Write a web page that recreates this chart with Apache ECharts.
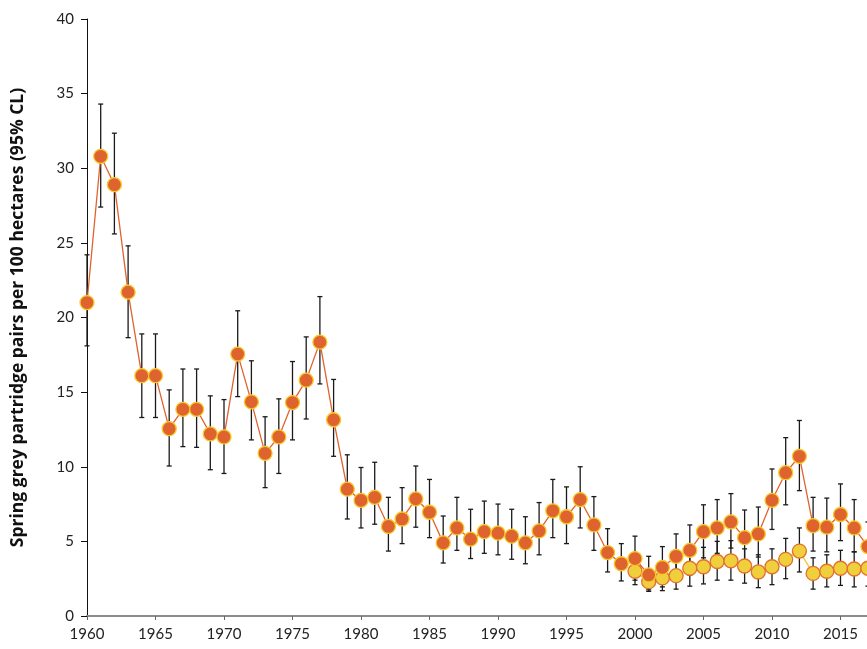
<!DOCTYPE html>
<html>
<head>
<meta charset="utf-8">
<script src="https://cdn.jsdelivr.net/npm/echarts@6/dist/echarts.min.js"></script>
<style>
html,body{margin:0;padding:0;background:#fff;overflow:hidden;width:867px;height:649px;}
#chart{width:960px;height:649px;}
</style>
</head>
<body>
<div id="chart"></div>
<script>
// Main series (1960-2017)
const years = [];
for (let y = 1960; y <= 2017; y++) years.push(y);
const mainMean = [21.0,30.8,28.9,21.7,16.1,16.1,12.55,13.85,13.85,12.2,12.0,17.55,14.35,10.9,12.0,14.3,15.8,18.35,13.15,8.5,
  7.75,7.95,6.0,6.5,7.85,6.95,4.9,5.9,5.15,5.65,5.55,5.35,4.9,5.7,7.05,6.65,7.8,6.1,4.25,3.5,
  3.85,2.75,3.25,4.0,4.4,5.65,5.9,6.3,5.25,5.5,7.75,9.6,10.7,6.05,5.95,6.8,5.9,4.65];
const mainLow = [18.1,27.4,25.6,18.65,13.3,13.3,10.05,11.35,11.3,9.8,9.55,14.7,11.8,8.6,9.55,11.8,13.2,15.55,10.7,6.5,
  5.9,6.15,4.35,4.85,5.95,5.25,3.55,4.4,3.85,4.2,4.1,3.8,3.5,4.1,5.25,4.85,5.9,4.4,2.95,2.35,
  2.4,1.75,1.95,2.55,2.75,3.9,4.2,4.55,3.5,3.95,5.8,7.45,8.4,4.35,4.3,5.05,4.3,3.0];
const mainHigh = [24.2,34.3,32.35,24.8,18.9,18.9,15.15,16.55,16.55,14.75,14.5,20.45,17.1,13.35,14.55,17.05,18.7,21.4,15.85,10.8,
  9.95,10.3,7.95,8.6,10.05,9.15,6.7,7.95,7.15,7.7,7.5,7.15,6.65,7.6,9.15,8.65,10.0,8.0,5.85,4.85,
  5.35,4.0,4.65,5.5,6.1,7.45,7.8,8.2,7.1,7.3,9.85,11.95,13.1,7.95,7.9,8.85,7.8,6.3];

// Second series (2000-2017)
const years2 = [];
for (let y = 2000; y <= 2017; y++) years2.push(y);
const secMean = [3.0,2.3,2.55,2.7,3.2,3.3,3.65,3.7,3.35,2.95,3.3,3.8,4.35,2.85,3.0,3.2,3.15,3.2];
const secLow  = [2.1,1.65,1.7,1.8,2.0,2.15,2.4,2.4,2.2,1.9,2.1,2.5,2.95,1.8,1.95,2.05,1.95,2.0];
const secHigh = [3.9,2.95,3.4,3.6,4.35,4.6,5.0,5.05,4.5,4.1,4.5,5.2,5.9,3.9,4.1,4.4,4.3,4.4];

const yAxisTitle = 'Spring grey partridge pairs per 100 hectares (95% CL)';

const mainPts = years.map((y,i)=>[y, mainMean[i]]);
const secPts = years2.map((y,i)=>[y, secMean[i]]);
const errMain = years.map((y,i)=>[y, mainLow[i], mainHigh[i]]);
const errSec = years2.map((y,i)=>[y, secLow[i], secHigh[i]]);

function renderErr(params, api){
  const x = api.value(0);
  const lo = api.coord([x, api.value(1)]);
  const hi = api.coord([x, api.value(2)]);
  const hw = 2.5;
  const st = {stroke:'#1a1a1a', lineWidth:1.3};
  return {type:'group', children:[
    {type:'line', shape:{x1:lo[0],y1:lo[1],x2:hi[0],y2:hi[1]}, style:st},
    {type:'line', shape:{x1:lo[0]-hw,y1:lo[1],x2:lo[0]+hw,y2:lo[1]}, style:st},
    {type:'line', shape:{x1:hi[0]-hw,y1:hi[1],x2:hi[0]+hw,y2:hi[1]}, style:st}
  ]};
}

const chart = echarts.init(document.getElementById('chart'), null, {renderer:'canvas'});
chart.setOption({
  animation:false,
  backgroundColor:'#fff',
  grid:{left:87, top:19, width:822, height:597, containLabel:false},
  xAxis:{
    type:'value', min:1960, max:2020, interval:5,
    axisLine:{show:true, onZero:false, lineStyle:{color:'#8c8c8c', width:2}},
    axisTick:{show:true, length:4, lineStyle:{color:'#666', width:1}},
    splitLine:{show:false},
    axisLabel:{color:'#222', fontFamily:'Lato', fontSize:15, margin:11, formatter:v=>String(v)}
  },
  yAxis:{
    type:'value', min:0, max:40, interval:5,
    name: yAxisTitle, nameLocation:'middle', nameGap:60,
    nameTextStyle:{fontFamily:'Open Sans', fontWeight:'bold', fontSize:17.5, color:'#111'},
    axisLine:{show:true, lineStyle:{color:'#111', width:1}},
    axisTick:{show:true, length:6, lineStyle:{color:'#111', width:1}},
    splitLine:{show:false},
    axisLabel:{color:'#222', fontFamily:'Lato', fontSize:15, margin:13}
  },
  series:[
    {type:'custom', renderItem:renderErr, data:errMain, encode:{x:0,y:[1,2]}, z:1, silent:true},
    {type:'custom', renderItem:renderErr, data:errSec, encode:{x:0,y:[1,2]}, z:1, silent:true},
    {type:'line', data:secPts, z:3, symbol:'circle', symbolSize:14,
      lineStyle:{color:'#F1C534', width:1.3},
      itemStyle:{color:'#EFCF3C', borderColor:'#E2702F', borderWidth:1.3}},
    {type:'line', data:mainPts, z:4, symbol:'circle', symbolSize:14,
      lineStyle:{color:'#E0632F', width:1.3},
      itemStyle:{color:'#DF632E', borderColor:'#F6C92A', borderWidth:1.3}}
  ]
});
</script>
</body>
</html>
